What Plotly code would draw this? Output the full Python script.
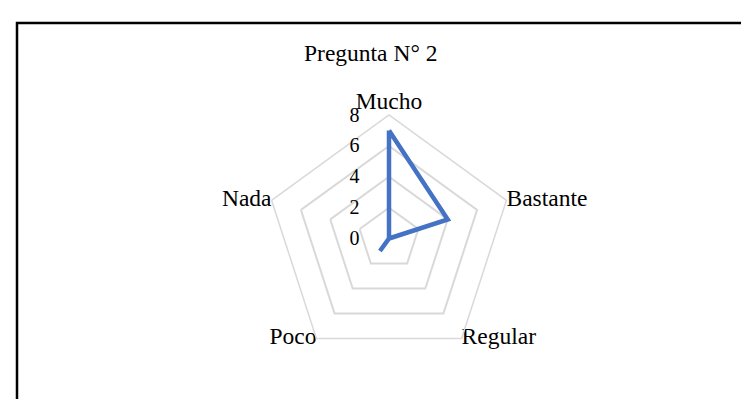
import plotly.graph_objects as go

# Datos
categorias = ['Mucho', 'Bastante', 'Regular', 'Poco', 'Nada']
valores = [7, 4, 0, 1, 0]
ticks_radiales = [0, 2, 4, 6, 8]
r_max = 8

W, H = 749, 399
cx, cy, S = 381, 230.5, 247  # centro y lado del dominio del radar en pixeles

fuente = dict(family='Liberation Serif, Times New Roman, serif', size=23.5, color='black')
fuente_ticks = dict(family='Liberation Serif, Times New Roman, serif', size=20, color='black')

fig = go.Figure()
fig.add_trace(go.Scatterpolar(
    r=valores + valores[:1],
    theta=categorias + categorias[:1],
    mode='lines',
    line=dict(color='#4472C4', width=4.5),
    showlegend=False,
))
# etiquetas de categoria junto a cada vertice (como en Excel)
fig.add_trace(go.Scatterpolar(
    r=[r_max] * len(categorias),
    theta=categorias,
    mode='text',
    text=categorias,
    textposition=['top center', 'middle right', 'middle right', 'middle left', 'middle left'],
    textfont=fuente,
    cliponaxis=False,
    hoverinfo='skip',
    showlegend=False,
))

fig.update_layout(
    width=W, height=H,
    margin=dict(l=0, r=0, t=0, b=0),
    paper_bgcolor='white',
    font=fuente,
    polar=dict(
        domain=dict(x=[(cx - S / 2) / W, (cx + S / 2) / W],
                    y=[(H - cy - S / 2) / H, (H - cy + S / 2) / H]),
        gridshape='linear',
        bgcolor='white',
        radialaxis=dict(
            range=[0, r_max], tickvals=ticks_radiales, angle=90, tickangle=90,
            showline=False, gridcolor='#d9d9d9', gridwidth=1.5,
            ticks='outside', ticklen=22, tickcolor='rgba(0,0,0,0)',
            side='counterclockwise', tickfont=fuente_ticks,
        ),
        angularaxis=dict(
            direction='clockwise', rotation=90, showgrid=False,
            linecolor='#d9d9d9', linewidth=1.5, ticks='', showticklabels=False,
        ),
    ),
    annotations=[dict(
        text='Pregunta N° 2', x=362.5 / W, y=1 - 45 / H, xref='paper', yref='paper',
        showarrow=False, font=fuente, xanchor='center', yanchor='middle',
    )],
    shapes=[dict(
        type='rect', xref='paper', yref='paper',
        x0=9 / W, x1=1.05, y0=-0.05, y1=1 - 15 / H,
        line=dict(color='black', width=2.5),
    )],
)

fig.write_html('out.html')
